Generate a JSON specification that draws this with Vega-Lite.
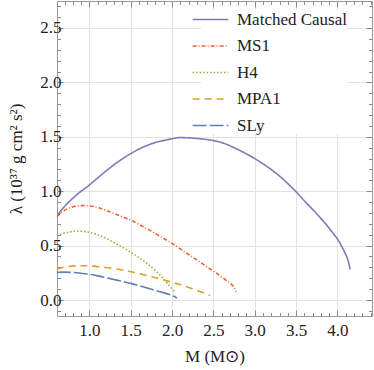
{
  "$schema": "https://vega.github.io/schema/vega-lite/v6.json",
  "autosize": "none",
  "width": 315,
  "height": 315,
  "padding": {"left": 57, "top": 1, "right": 2, "bottom": 54},
  "background": "white",
  "config": {
    "view": {"stroke": "#9a9a9a", "strokeWidth": 1},
    "font": "'Liberation Serif', 'Times New Roman', serif"
  },
  "data": {
    "values": [
      {"eos": "Matched Causal", "M": 0.606, "L": 0.775},
      {"eos": "Matched Causal", "M": 0.7, "L": 0.86},
      {"eos": "Matched Causal", "M": 0.8, "L": 0.935},
      {"eos": "Matched Causal", "M": 0.9, "L": 1.0},
      {"eos": "Matched Causal", "M": 1.0, "L": 1.057},
      {"eos": "Matched Causal", "M": 1.25, "L": 1.215},
      {"eos": "Matched Causal", "M": 1.5, "L": 1.345},
      {"eos": "Matched Causal", "M": 1.75, "L": 1.435},
      {"eos": "Matched Causal", "M": 2.0, "L": 1.482},
      {"eos": "Matched Causal", "M": 2.157, "L": 1.492},
      {"eos": "Matched Causal", "M": 2.5, "L": 1.465},
      {"eos": "Matched Causal", "M": 2.75, "L": 1.4},
      {"eos": "Matched Causal", "M": 3.0, "L": 1.3},
      {"eos": "Matched Causal", "M": 3.25, "L": 1.17},
      {"eos": "Matched Causal", "M": 3.4, "L": 1.07},
      {"eos": "Matched Causal", "M": 3.5, "L": 0.995},
      {"eos": "Matched Causal", "M": 3.6, "L": 0.912},
      {"eos": "Matched Causal", "M": 3.7, "L": 0.833},
      {"eos": "Matched Causal", "M": 3.8, "L": 0.75},
      {"eos": "Matched Causal", "M": 3.9, "L": 0.66},
      {"eos": "Matched Causal", "M": 4.0, "L": 0.56},
      {"eos": "Matched Causal", "M": 4.05, "L": 0.495},
      {"eos": "Matched Causal", "M": 4.1, "L": 0.42},
      {"eos": "Matched Causal", "M": 4.13, "L": 0.36},
      {"eos": "Matched Causal", "M": 4.145, "L": 0.315},
      {"eos": "Matched Causal", "M": 4.152, "L": 0.282},

      {"eos": "MS1", "M": 0.606, "L": 0.766},
      {"eos": "MS1", "M": 0.7, "L": 0.825},
      {"eos": "MS1", "M": 0.8, "L": 0.855},
      {"eos": "MS1", "M": 0.9, "L": 0.867},
      {"eos": "MS1", "M": 1.0, "L": 0.865},
      {"eos": "MS1", "M": 1.1, "L": 0.85},
      {"eos": "MS1", "M": 1.2, "L": 0.825},
      {"eos": "MS1", "M": 1.3, "L": 0.795},
      {"eos": "MS1", "M": 1.4, "L": 0.765},
      {"eos": "MS1", "M": 1.5, "L": 0.735},
      {"eos": "MS1", "M": 1.6, "L": 0.695},
      {"eos": "MS1", "M": 1.7, "L": 0.655},
      {"eos": "MS1", "M": 1.8, "L": 0.61},
      {"eos": "MS1", "M": 1.9, "L": 0.565},
      {"eos": "MS1", "M": 2.0, "L": 0.52},
      {"eos": "MS1", "M": 2.1, "L": 0.47},
      {"eos": "MS1", "M": 2.2, "L": 0.418},
      {"eos": "MS1", "M": 2.3, "L": 0.367},
      {"eos": "MS1", "M": 2.4, "L": 0.316},
      {"eos": "MS1", "M": 2.5, "L": 0.265},
      {"eos": "MS1", "M": 2.6, "L": 0.212},
      {"eos": "MS1", "M": 2.7, "L": 0.155},
      {"eos": "MS1", "M": 2.75, "L": 0.118},
      {"eos": "MS1", "M": 2.774, "L": 0.077},

      {"eos": "H4", "M": 0.606, "L": 0.59},
      {"eos": "H4", "M": 0.7, "L": 0.615},
      {"eos": "H4", "M": 0.8, "L": 0.63},
      {"eos": "H4", "M": 0.9, "L": 0.633},
      {"eos": "H4", "M": 1.0, "L": 0.622},
      {"eos": "H4", "M": 1.1, "L": 0.6},
      {"eos": "H4", "M": 1.2, "L": 0.567},
      {"eos": "H4", "M": 1.3, "L": 0.527},
      {"eos": "H4", "M": 1.4, "L": 0.485},
      {"eos": "H4", "M": 1.5, "L": 0.44},
      {"eos": "H4", "M": 1.6, "L": 0.39},
      {"eos": "H4", "M": 1.7, "L": 0.335},
      {"eos": "H4", "M": 1.8, "L": 0.27},
      {"eos": "H4", "M": 1.9, "L": 0.192},
      {"eos": "H4", "M": 1.95, "L": 0.147},
      {"eos": "H4", "M": 2.0, "L": 0.103},
      {"eos": "H4", "M": 2.03, "L": 0.077},

      {"eos": "MPA1", "M": 0.606, "L": 0.285},
      {"eos": "MPA1", "M": 0.7, "L": 0.303},
      {"eos": "MPA1", "M": 0.8, "L": 0.312},
      {"eos": "MPA1", "M": 0.9, "L": 0.315},
      {"eos": "MPA1", "M": 1.0, "L": 0.313},
      {"eos": "MPA1", "M": 1.2, "L": 0.298},
      {"eos": "MPA1", "M": 1.4, "L": 0.275},
      {"eos": "MPA1", "M": 1.5, "L": 0.26},
      {"eos": "MPA1", "M": 1.6, "L": 0.243},
      {"eos": "MPA1", "M": 1.8, "L": 0.205},
      {"eos": "MPA1", "M": 2.0, "L": 0.163},
      {"eos": "MPA1", "M": 2.2, "L": 0.115},
      {"eos": "MPA1", "M": 2.4, "L": 0.06},
      {"eos": "MPA1", "M": 2.46, "L": 0.04},

      {"eos": "SLy", "M": 0.606, "L": 0.254},
      {"eos": "SLy", "M": 0.7, "L": 0.256},
      {"eos": "SLy", "M": 0.8, "L": 0.253},
      {"eos": "SLy", "M": 0.9, "L": 0.246},
      {"eos": "SLy", "M": 1.0, "L": 0.236},
      {"eos": "SLy", "M": 1.1, "L": 0.222},
      {"eos": "SLy", "M": 1.2, "L": 0.205},
      {"eos": "SLy", "M": 1.3, "L": 0.188},
      {"eos": "SLy", "M": 1.4, "L": 0.171},
      {"eos": "SLy", "M": 1.5, "L": 0.153},
      {"eos": "SLy", "M": 1.6, "L": 0.132},
      {"eos": "SLy", "M": 1.7, "L": 0.11},
      {"eos": "SLy", "M": 1.8, "L": 0.088},
      {"eos": "SLy", "M": 1.9, "L": 0.066},
      {"eos": "SLy", "M": 2.0, "L": 0.042},
      {"eos": "SLy", "M": 2.06, "L": 0.018}
    ]
  },
  "layer": [
    {
      "mark": {"type": "line", "strokeWidth": 1.6, "interpolate": "natural", "clip": true},
      "encoding": {
        "x": {
          "field": "M", "type": "quantitative",
          "scale": {"domain": [0.609, 4.418], "nice": false, "zero": false},
          "axis": {
            "orient": "bottom",
            "title": "M (M⊙)",
            "titleFont": "'Liberation Serif', 'Times New Roman', serif", "titleFontSize": 17, "titleFontWeight": "normal", "titleColor": "#222", "titlePadding": 8,
            "values": [0.7,0.8,0.9,1.0,1.1,1.2,1.3,1.4,1.5,1.6,1.7,1.8,1.9,2.0,2.1,2.2,2.3,2.4,2.5,2.6,2.7,2.8,2.9,3.0,3.1,3.2,3.3,3.4,3.5,3.6,3.7,3.8,3.9,4.0,4.1,4.2,4.3,4.4],
            "labelExpr": "abs(datum.value*2 - round(datum.value*2)) < 0.001 ? format(datum.value, '.1f') : ''",
            "labelFont": "'Liberation Serif', 'Times New Roman', serif", "labelFontSize": 17, "labelColor": "#222", "labelPadding": 12, "labelFlush": false, "labelOverlap": false,
            "domain": false,
            "grid": true, "gridColor": "#e3e3e3",
            "gridOpacity": {"condition": {"test": "abs(datum.value*2 - round(datum.value*2)) < 0.001", "value": 1}, "value": 0},
            "tickColor": "#8a8a8a",
            "tickSize": {"condition": {"test": "abs(datum.value*2 - round(datum.value*2)) < 0.001", "value": -6}, "value": -3.5}
          }
        },
        "y": {
          "field": "L", "type": "quantitative",
          "scale": {"domain": [-0.147, 2.748], "nice": false, "zero": false},
          "axis": {
            "orient": "left",
            "title": "λ (10³⁷ g cm² s²)",
            "titleFont": "'Liberation Serif', 'Times New Roman', serif", "titleFontSize": 17, "titleFontWeight": "normal", "titleColor": "#222", "titlePadding": 14.5,
            "values": [-0.1,0.0,0.1,0.2,0.3,0.4,0.5,0.6,0.7,0.8,0.9,1.0,1.1,1.2,1.3,1.4,1.5,1.6,1.7,1.8,1.9,2.0,2.1,2.2,2.3,2.4,2.5,2.6,2.7],
            "labelExpr": "abs(datum.value*2 - round(datum.value*2)) < 0.001 ? format(datum.value, '.1f') : ''",
            "labelFont": "'Liberation Serif', 'Times New Roman', serif", "labelFontSize": 17, "labelColor": "#222", "labelPadding": 2, "labelFlush": false, "labelOverlap": false,
            "domain": false,
            "grid": true, "gridColor": "#e3e3e3",
            "gridOpacity": {"condition": {"test": "abs(datum.value*2 - round(datum.value*2)) < 0.001", "value": 1}, "value": 0},
            "tickColor": "#8a8a8a",
            "tickSize": {"condition": {"test": "abs(datum.value*2 - round(datum.value*2)) < 0.001", "value": -6}, "value": -3.5}
          }
        },
        "detail": {"field": "eos"},
        "color": {
          "field": "eos", "type": "nominal",
          "scale": {
            "domain": ["Matched Causal", "MS1", "H4", "MPA1", "SLy"],
            "range": ["#8778b3", "#eb6235", "#8fb032", "#e19c24", "#5e81b5"]
          },
          "legend": {
            "title": null,
            "orient": "none", "legendX": 144, "legendY": 9,
            "fillColor": "white", "padding": 0,
            "symbolType": "M-2.1,0H2.1", "symbolSize": 289, "symbolStrokeWidth": 1.6,
            "labelFont": "'Liberation Serif', 'Times New Roman', serif", "labelFontSize": 17, "labelColor": "#222", "labelOffset": 17,
            "rowPadding": 8.5, "labelLimit": 300
          }
        },
        "strokeDash": {
          "field": "eos", "type": "nominal",
          "scale": {
            "domain": ["Matched Causal", "MS1", "H4", "MPA1", "SLy"],
            "range": [[1, 0], [4, 2, 1, 2], [1.5, 2], [7, 5], [14, 3]]
          },
          "legend": null
        }
      }
    },
    {
      "mark": {"type": "point", "opacity": 0},
      "encoding": {
        "x": {
          "field": "M", "type": "quantitative",
          "scale": {"domain": [0.609, 4.418], "nice": false, "zero": false},
          "axis": {
            "orient": "top", "title": null, "labels": false, "domain": false, "grid": false,
            "values": [0.7,0.8,0.9,1.0,1.1,1.2,1.3,1.4,1.5,1.6,1.7,1.8,1.9,2.0,2.1,2.2,2.3,2.4,2.5,2.6,2.7,2.8,2.9,3.0,3.1,3.2,3.3,3.4,3.5,3.6,3.7,3.8,3.9,4.0,4.1,4.2,4.3,4.4],
            "tickColor": "#8a8a8a",
            "tickSize": {"condition": {"test": "abs(datum.value*2 - round(datum.value*2)) < 0.001", "value": -6}, "value": -3.5}
          }
        },
        "y": {
          "field": "L", "type": "quantitative",
          "scale": {"domain": [-0.147, 2.748], "nice": false, "zero": false},
          "axis": {
            "orient": "right", "title": null, "labels": false, "domain": false, "grid": false,
            "values": [-0.1,0.0,0.1,0.2,0.3,0.4,0.5,0.6,0.7,0.8,0.9,1.0,1.1,1.2,1.3,1.4,1.5,1.6,1.7,1.8,1.9,2.0,2.1,2.2,2.3,2.4,2.5,2.6,2.7],
            "tickColor": "#8a8a8a",
            "tickSize": {"condition": {"test": "abs(datum.value*2 - round(datum.value*2)) < 0.001", "value": -6}, "value": -3.5}
          }
        }
      }
    }
  ],
  "resolve": {"axis": {"x": "independent", "y": "independent"}}
}
